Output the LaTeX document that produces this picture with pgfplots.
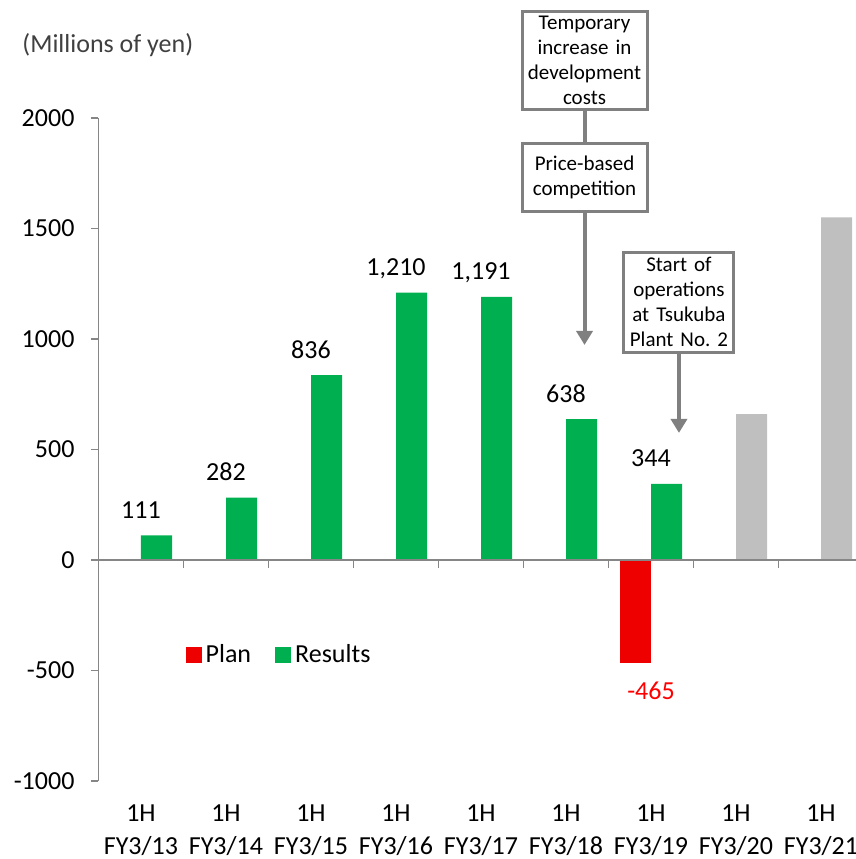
\documentclass[border=0pt]{standalone}
\usepackage{pgfplots}
\pgfplotsset{compat=1.18}
\usepackage{fontspec}
\setmainfont{Carlito}
\usetikzlibrary{arrows.meta}
\definecolor{resgreen}{HTML}{00B050}
\definecolor{planred}{HTML}{EE0000}
\definecolor{futgray}{HTML}{BFBFBF}
\definecolor{axgray}{HTML}{868686}
\definecolor{boxgray}{HTML}{808080}
\definecolor{unitgray}{HTML}{404040}
\frenchspacing
\begin{document}
\begin{tikzpicture}[font=\fontsize{13pt}{15.6pt}\selectfont]
\begin{axis}[
  x=42.5pt, y=0.1105pt,
  xmin=-0.5, xmax=8.5, ymin=-1000, ymax=2000,
  enlargelimits=false,
  clip=false,
  axis y line*=left,
  axis x line*=bottom,
  x axis line style={draw=none},
  y axis line style={draw=axgray, line width=0.9pt},
  xtick={0,...,8},
  xtick style={draw=none},
  xticklabels={{1H\\FY3/13},{1H\\FY3/14},{1H\\FY3/15},{1H\\FY3/16},{1H\\FY3/17},{1H\\FY3/18},{1H\\FY3/19},{1H\\FY3/20},{1H\\FY3/21}},
  xticklabel style={align=center, font=\fontsize{13pt}{16.5pt}\selectfont, anchor=north, yshift=-5pt},
  ytick={-1000,-500,0,500,1000,1500,2000},
  yticklabels={-1000,-500,0,500,1000,1500,2000},
  ytick style={draw=axgray, line width=0.9pt},
  tick align=outside,
  major tick length=3.5pt,
  yticklabel style={anchor=east, xshift=-5pt},
  /pgf/number format/assume math mode=true,
  legend style={at={(axis cs:0.45,-430)}, anchor=west, draw=none, fill=none,
    font=\fontsize{13pt}{15.6pt}\selectfont,
    /tikz/every even column/.append style={column sep=10pt}},
  legend columns=2,
  legend image code/.code={\fill[#1] (0pt,-4pt) rectangle (8pt,4pt);},
]
% Plan
\addplot[ybar, bar width=0.365, bar shift=-0.1825, fill=planred, draw=none,
  nodes near coords={\pgfmathprintnumber{\pgfplotspointmeta}},
  every node near coord/.append style={anchor=base, yshift=-18.5pt, text=red, inner sep=0pt}]
  coordinates {(6,-465)};
\addlegendentry{Plan}
% Results
\addplot[ybar, bar width=0.365, bar shift=0.1825, fill=resgreen, draw=none,
  nodes near coords={\pgfmathprintnumber[1000 sep={,}]{\pgfplotspointmeta}},
  every node near coord/.append style={anchor=base, yshift=8.5pt, text=black, inner sep=0pt}]
  coordinates {(0,111) (1,282) (2,836) (3,1210) (4,1191) (5,638) (6,344)};
\addlegendentry{Results}
% Forecast (gray)
\addplot[ybar, bar width=0.365, bar shift=0.1825, fill=futgray, draw=none, forget plot]
  coordinates {(7,660) (8,1550)};
% zero line and category ticks
\draw[axgray, line width=0.9pt] (axis cs:-0.5,0) -- (axis cs:8.5,0);
\pgfplotsinvokeforeach{0.5,1.5,2.5,3.5,4.5,5.5,6.5,7.5}{
  \draw[axgray, line width=0.9pt] (axis cs:#1,0) -- ++(0pt,-4pt);
}
\coordinate (O) at (axis cs:0,0);
% unit label
\node[anchor=west, inner sep=0pt, text=unitgray] at (axis cs:-1.4,2330) {(Millions of yen)};
% annotations
\begin{scope}[every node/.style={draw=boxgray, line width=1.5pt, fill=white, align=center, inner sep=0pt,
  font=\fontsize{10.5pt}{12.5pt}\selectfont}]
\node[text width=62.5pt, minimum height=49pt] (b1) at (axis cs:5.218,2262) {Temporary\\increase in\\development\\costs};
\node[text width=62.5pt, minimum height=34pt] (b2) at (axis cs:5.218,1733) {Price-based\\competition};
\node[text width=55pt, minimum height=50pt] (b3) at (axis cs:6.329,1167) {Start of\\operations\\at Tsukuba\\Plant No.~2};
\end{scope}
\draw[boxgray, line width=2pt] (b1.south) -- (b2.north);
\draw[boxgray, line width=2pt, -{Triangle[width=8pt,length=7pt]}] (b2.south) -- (axis cs:5.218,973);
\draw[boxgray, line width=2pt, -{Triangle[width=8pt,length=7pt]}] (b3.south) -- (axis cs:6.329,575);
\end{axis}
\pgfresetboundingbox
\useasboundingbox ([shift={(-70.5pt,-149.5pt)}]O) rectangle ([shift={(357.5pt,280pt)}]O);
\end{tikzpicture}
\end{document}
